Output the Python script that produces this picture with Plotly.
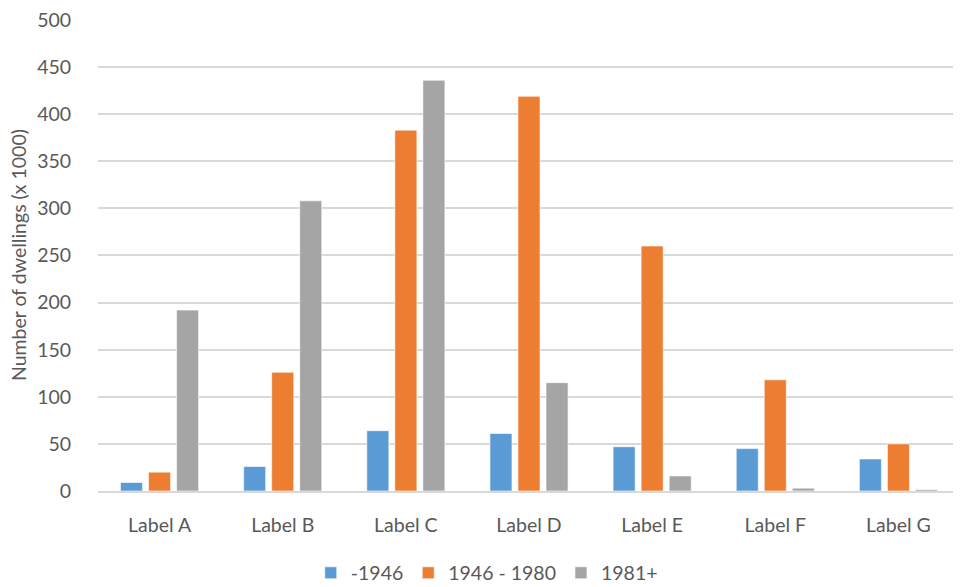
import plotly.graph_objects as go

categories = ["Label A", "Label B", "Label C", "Label D", "Label E", "Label F", "Label G"]
pre_1946 = [9, 26, 64, 61, 47, 45, 34]
y1946_1980 = [20, 126, 383, 419, 260, 118, 50]
y1981_plus = [192, 308, 436, 115, 16, 3, 1.5]
series_names = ["-1946", "1946 - 1980", "1981+"]
colors = ["#5B9BD5", "#ED7D31", "#A5A5A5"]
y_ticks = [0, 50, 100, 150, 200, 250, 300, 350, 400, 450, 500]

fig = go.Figure()
for name, vals, col in zip(series_names, [pre_1946, y1946_1980, y1981_plus], colors):
    fig.add_trace(go.Bar(
        x=categories, y=vals, name=name,
        marker=dict(color=col, line=dict(color="rgba(255,255,255,0.6)", width=1)),
    ))

font_family = "Lato, 'Open Sans', sans-serif"
fs = 19.5
fig.update_layout(
    width=953, height=579,
    paper_bgcolor="white", plot_bgcolor="white",
    margin=dict(l=90, r=1, t=11, b=96, autoexpand=False),
    barmode="group", bargap=0.317, bargroupgap=0.214,
    font=dict(family=font_family, size=fs, color="#595959"),
    showlegend=True,
    legend=dict(orientation="h", x=0.451, xanchor="center", y=-0.174, yanchor="middle",
                font=dict(size=fs, color="#595959"), itemwidth=30, traceorder="normal"),
    xaxis=dict(showgrid=False, showline=True, linecolor="#D9D9D9", linewidth=2,
               automargin=False,
               ticks="outside", ticklen=16, tickcolor="rgba(0,0,0,0)",
               tickfont=dict(size=fs, color="#595959")),
    yaxis=dict(range=[0, 501], tickvals=y_ticks, showgrid=True, gridcolor="#D9D9D9", gridwidth=2,
               zeroline=False, showline=False, automargin=False, ticklabeloverflow="allow",
               ticks="outside", ticklen=22, tickcolor="rgba(0,0,0,0)",
               tickfont=dict(size=fs, color="#595959")),
    annotations=[dict(text="Number of dwellings (x 1000)", textangle=-90,
                      xref="paper", yref="paper", x=(10 - 90) / 862, y=0.5,
                      xanchor="center", yanchor="middle", showarrow=False,
                      font=dict(size=fs, color="#595959"))],
)

fig.write_html("out.html")
